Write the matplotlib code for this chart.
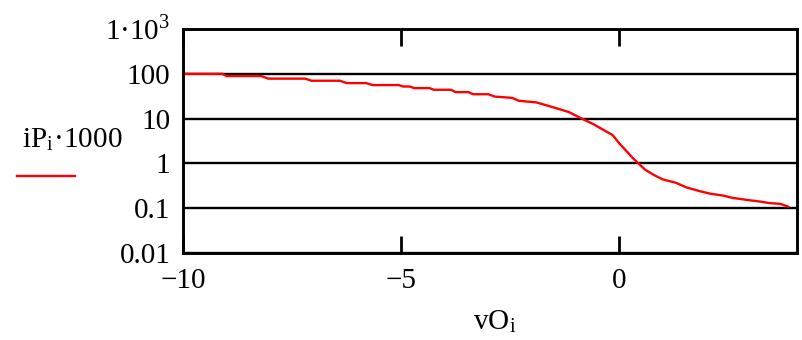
import numpy as np
import matplotlib
matplotlib.use("Agg")
import matplotlib.pyplot as plt
from matplotlib.ticker import FixedLocator, FixedFormatter

plt.rcParams['font.family'] = ['Liberation Serif', 'DejaVu Serif']
plt.rcParams['mathtext.fontset'] = 'stix'

# datos (vO, iP*1000)
vO = [-10.0, -9.1, -9.0, -8.2, -8.05, -7.2, -7.05, -6.4, -6.25, -5.8,
      -5.65, -5.05, -4.95, -4.8, -4.7, -4.35, -4.25, -3.85, -3.75, -3.45,
      -3.35, -3.0, -2.85, -2.45, -2.3, -1.9, -1.6, -1.15, -0.9, -0.6,
      -0.15, 0.02, 0.32, 0.6, 0.8, 1.0, 1.3, 1.55, 1.85, 2.1,
      2.4, 2.6, 3.0, 3.25, 3.45, 3.7, 3.88]
iP1000 = [100, 100, 89, 89, 78, 78, 70, 70, 62, 62,
          56, 56, 52, 52, 48, 48, 44, 44, 39, 39,
          35, 35, 31, 29, 25, 23, 19, 14, 10.5, 7.6,
          4.3, 2.7, 1.3, 0.72, 0.55, 0.44, 0.37, 0.29, 0.24, 0.21,
          0.19, 0.17, 0.15, 0.14, 0.13, 0.125, 0.108]

yticks = [0.01, 0.1, 1, 10, 100, 1000]
ylabels = ['0.01', '0.1', '1', '10', '100', '1\u00b710$^{\\mathregular{3}}$']
xticks = [-10, -5, 0]

fs = 21

fig = plt.figure(figsize=(8.03, 3.40), dpi=100)
ax = fig.add_axes([183/803, 87/340, 614/803, 224/340])

ax.plot(vO, iP1000, color='red', lw=1.7)
ax.set_yscale('log')
ax.set_xlim(-10, 4.08)
ax.set_ylim(0.01, 1000)

ax.yaxis.set_major_locator(FixedLocator(yticks))
ax.yaxis.set_major_formatter(FixedFormatter(ylabels))
ax.yaxis.set_minor_locator(FixedLocator([]))
ax.set_xticks(xticks)
ax.set_xticklabels(['\u221210', '\u22125', '0'])

ax.grid(True, axis='y', color='black', lw=1.7)
ax.tick_params(axis='x', direction='in', length=12, width=2, top=True,
               labelsize=fs, pad=11)
ax.tick_params(axis='y', length=0, labelsize=fs, pad=9)
for s in ax.spines.values():
    s.set_linewidth(2.1)

fig.text(22/803, 1 - 140/340, 'iP$_{\\mathregular{i}}$\u00b71000', fontsize=fs,
         va='center', ha='left')
fig.add_artist(plt.Line2D([17/803, 75/803], [1 - 176/340, 1 - 176/340],
                          color='red', lw=1.7))
fig.text(495/803, 1 - 322/340, 'vO$_{\\mathregular{i}}$', fontsize=fs,
         ha='center', va='center')

fig.savefig('out.png', dpi=100)
